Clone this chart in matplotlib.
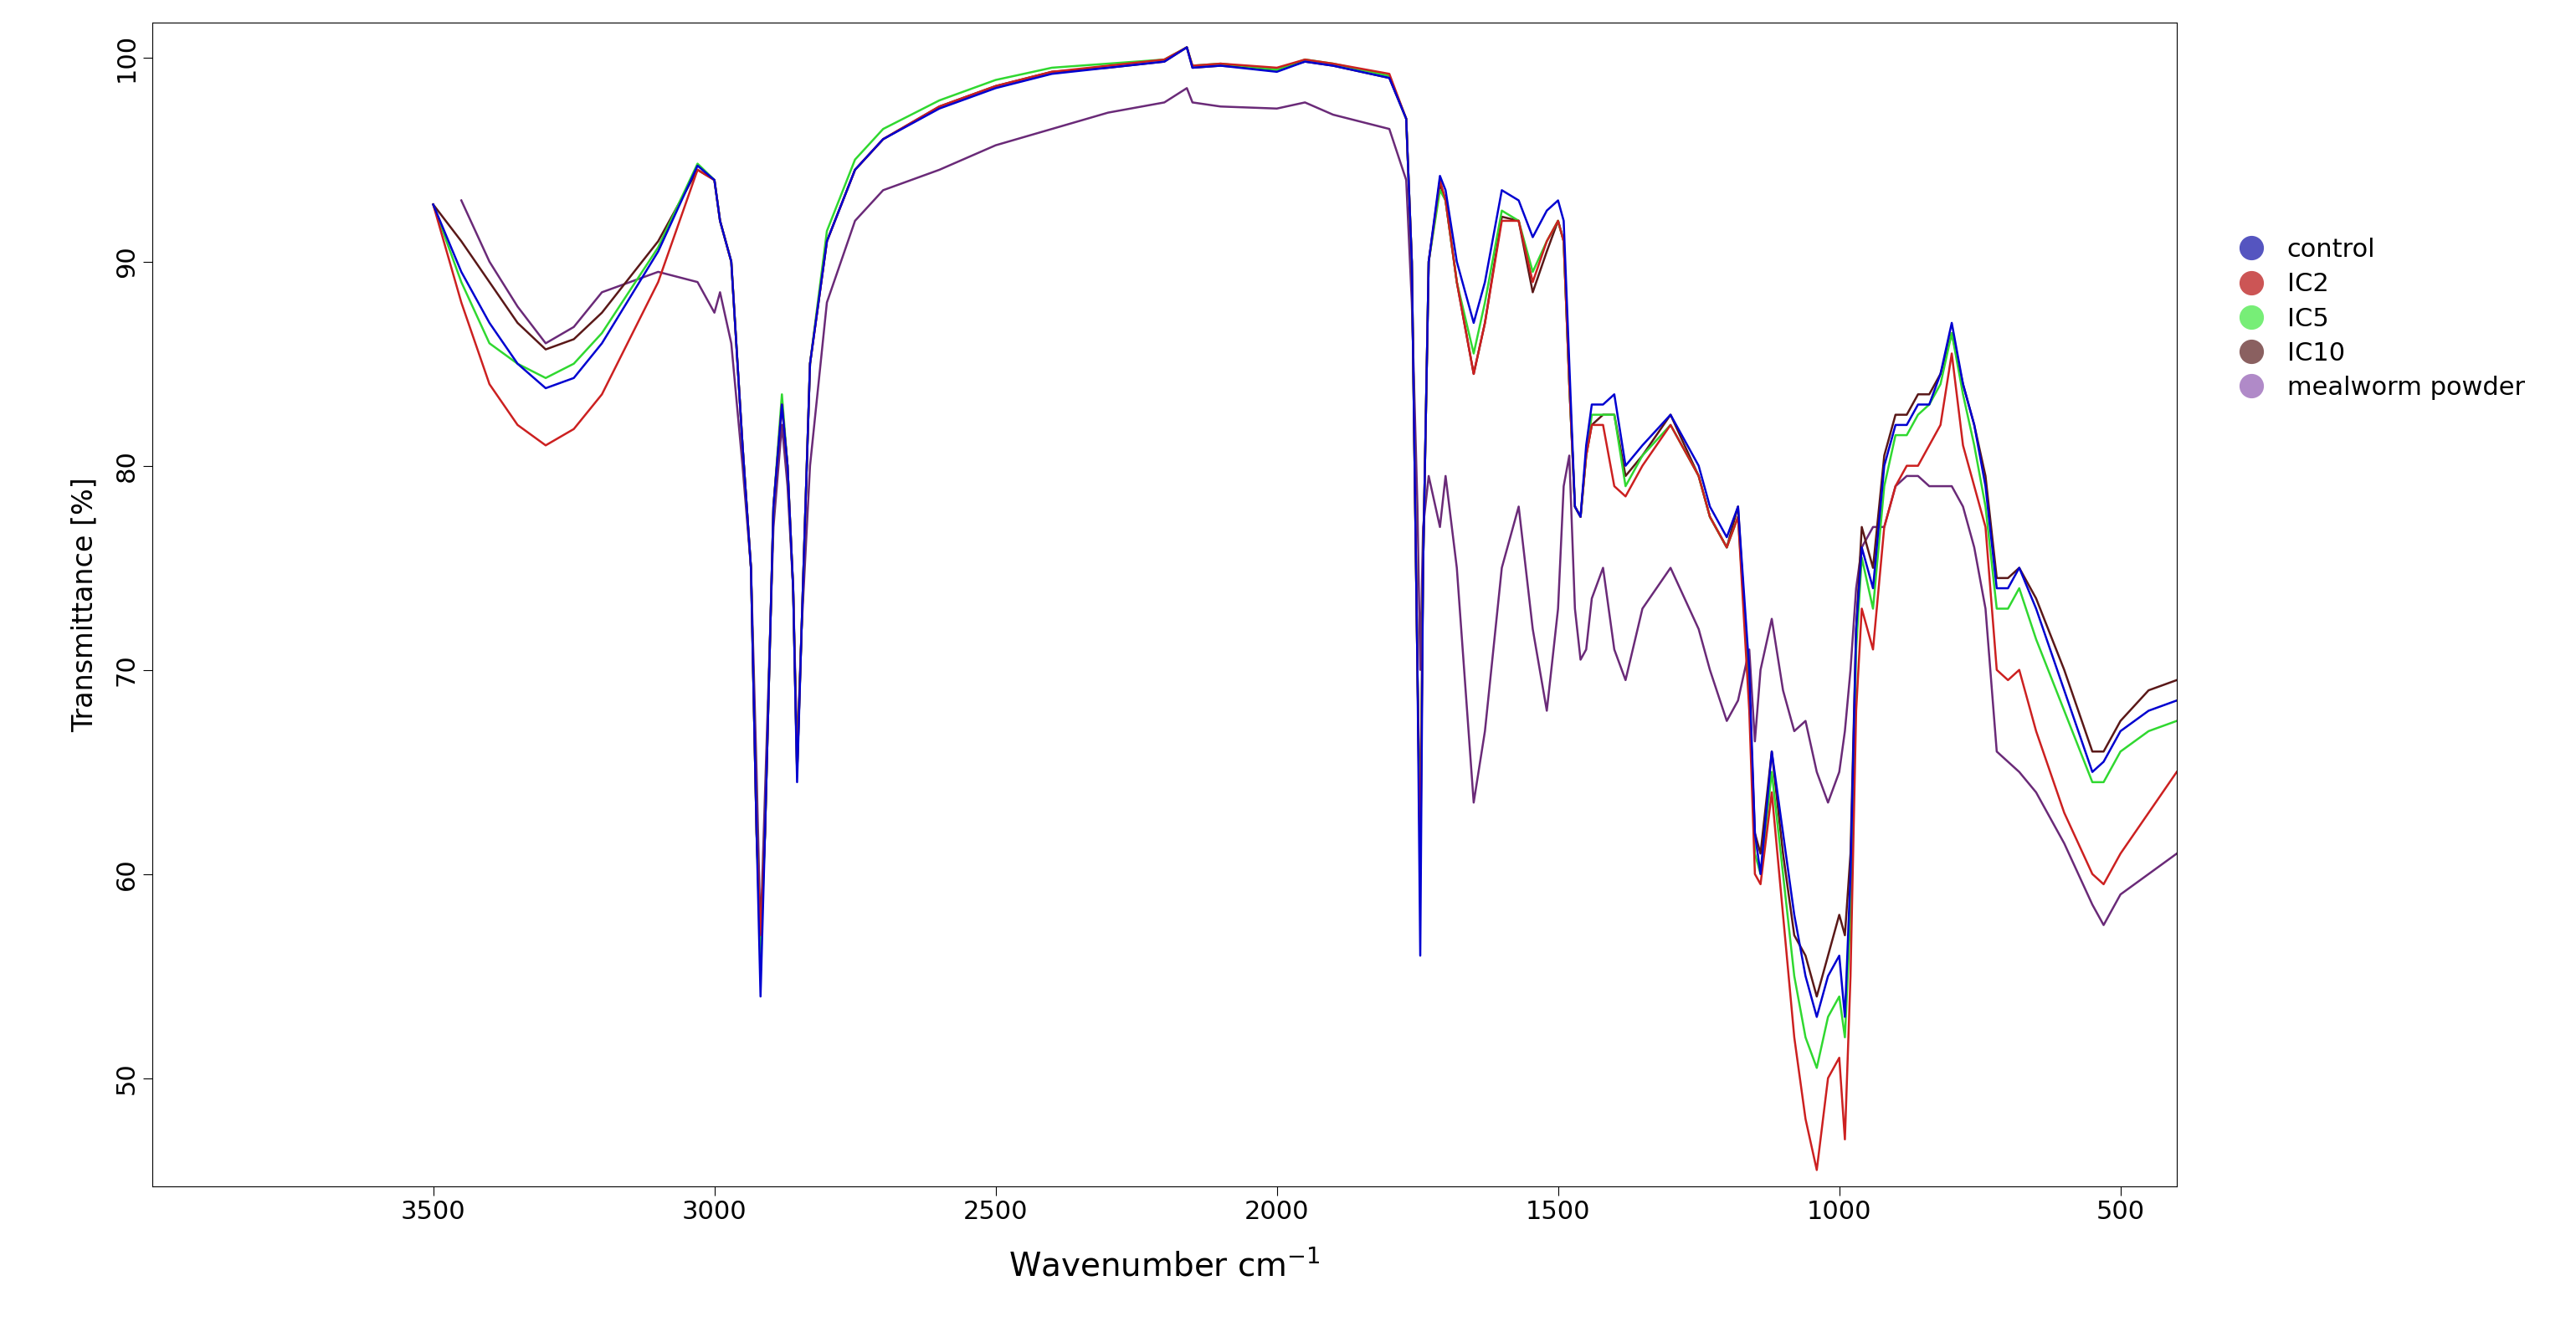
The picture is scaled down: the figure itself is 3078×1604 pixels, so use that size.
import numpy as np
import matplotlib
matplotlib.use("Agg")
import matplotlib.pyplot as plt

wn = [3500,3450,3400,3350,3300,3250,3200,3100,3030,3000,2990,2970,2950,2935,2925,2918,2910,2895,2880,2870,2860,2853,2845,2830,2800,2750,2700,2600,2500,2400,2300,2200,2160,2150,2100,2000,1950,1900,1800,1770,1760,1750,1745,1740,1730,1710,1700,1680,1650,1630,1600,1570,1545,1520,1500,1490,1480,1470,1460,1450,1440,1420,1400,1380,1350,1300,1250,1230,1200,1180,1160,1150,1140,1120,1100,1080,1060,1040,1020,1000,990,980,970,960,940,920,900,880,860,840,820,800,780,760,740,720,700,680,650,600,550,530,500,450,400]

control = [92.8,89.5,87,85,83.8,84.3,86,90.5,94.7,94,92,90,81,75,62,54,62,78,83,80,74,64.5,72,85,91,94.5,96,97.5,98.5,99.2,99.5,99.8,100.5,99.5,99.6,99.3,99.8,99.6,99,97,90,70,56,75,90,94.2,93.5,90,87,89,93.5,93,91.2,92.5,93,92,85,78,77.5,81,83,83,83.5,80,81,82.5,80,78,76.5,78,70,62,60,66,62,58,55,53,55,56,53,60,72,76,74,80,82,82,83,83,84.5,87,84,82,79,74,74,75,73,69,65,65.5,67,68,68.5]
ic2 = [92.8,88,84,82,81,81.8,83.5,89,94.5,94,92,90,81,75,62,57,62,78,83,80,74,65,72,85,91,94.5,96,97.6,98.6,99.3,99.6,99.9,100.5,99.6,99.7,99.5,99.9,99.7,99.2,97,90,70,60,75,90,94,93,89,84.5,87,92,92,89,91,92,91,84,78,77.5,80.5,82,82,79,78.5,80,82,79.5,77.5,76,77.5,68,60,59.5,64,58,52,48,45.5,50,51,47,55,68,73,71,77,79,80,80,81,82,85.5,81,79,77,70,69.5,70,67,63,60,59.5,61,63,65]
ic5 = [92.8,89,86,85,84.3,85,86.5,90.7,94.8,94,92,90,81,75,62,56,62,78,83.5,80,74,65,72,85,91.5,95,96.5,97.9,98.9,99.5,99.7,99.9,100.5,99.6,99.7,99.4,99.9,99.7,99.1,97,90,70,61,75,90,93.5,93,89,85.5,88,92.5,92,89.5,91,92,91,84,78,77.5,80.5,82.5,82.5,82.5,79,80.5,82,79.5,77.5,76,77.5,69,61,60,65,60,55,52,50.5,53,54,52,58,71,75.5,73,79,81.5,81.5,82.5,83,84,86.5,83.5,81,78,73,73,74,71.5,68,64.5,64.5,66,67,67.5]
ic10 = [92.8,91,89,87,85.7,86.2,87.5,91,94.5,94,92,90,81,75,62,57,62,78,83,80,74,65,72,85,91,94.5,96,97.6,98.6,99.3,99.5,99.8,100.5,99.5,99.6,99.4,99.8,99.6,99,97,90,70,62,75,90,93.8,93,89,84.5,87,92.2,92,88.5,90.5,92,91,84,78,77.5,80.5,82,82.5,82.5,79.5,80.5,82.5,79.5,77.5,76,78,69,62,61,66,61,57,56,54,56,58,57,61,72,77,75,80.5,82.5,82.5,83.5,83.5,84.5,86.5,84,82,79.5,74.5,74.5,75,73.5,70,66,66,67.5,69,69.5]
mealworm = [np.nan,93,90,87.8,86,86.8,88.5,89.5,89,87.5,88.5,86,80,75,65,57,64,77,82,79,74,66,72,80,88,92,93.5,94.5,95.7,96.5,97.3,97.8,98.5,97.8,97.6,97.5,97.8,97.2,96.5,94,88,78,70,77,79.5,77,79.5,75,63.5,67,75,78,72,68,73,79,80.5,73,70.5,71,73.5,75,71,69.5,73,75,72,70,67.5,68.5,71,66.5,70,72.5,69,67,67.5,65,63.5,65,67,70,74,76,77,77,79,79.5,79.5,79,79,79,78,76,73,66,65.5,65,64,61.5,58.5,57.5,59,60,61]

names = ["control", "IC2", "IC5", "IC10", "mealworm powder"]
series = [control, ic2, ic5, ic10, mealworm]
line_colors = ["#0000d0", "#cc2020", "#30d830", "#5a1818", "#6a2a78"]
marker_colors = ["#5555c0", "#cc5555", "#77ee77", "#8a6060", "#b08ac8"]

fig = plt.figure(figsize=(30.78, 16.04), dpi=100)
ax = fig.add_axes([0.059, 0.116, 0.786, 0.867])
order = [4, 3, 2, 1, 0]
for i in order:
    ax.plot(wn, series[i], color=line_colors[i], lw=1.8)
ax.set_xlim(4000, 400)
ax.set_ylim(44.7, 101.7)
ax.set_xticks([3500, 3000, 2500, 2000, 1500, 1000, 500])
ax.set_yticks([50, 60, 70, 80, 90, 100])
ax.tick_params(axis='x', labelsize=22, length=8)
ax.tick_params(axis='y', labelsize=22, length=8, labelrotation=90)
for t in ax.get_yticklabels():
    t.set_va('center')
ax.set_xlabel("Wavenumber cm$^{-1}$", fontsize=28, labelpad=22)
ax.set_ylabel("Transmittance [%]", fontsize=24, labelpad=14)

handles = [plt.Line2D([], [], marker='o', ls='', color=m, markersize=20) for m in marker_colors]
fig.legend(handles, names, loc='upper left', bbox_to_anchor=(0.855, 0.84), frameon=False,
           fontsize=22, handletextpad=0.4, labelspacing=0.4)
fig.savefig("out.png", dpi=100)
